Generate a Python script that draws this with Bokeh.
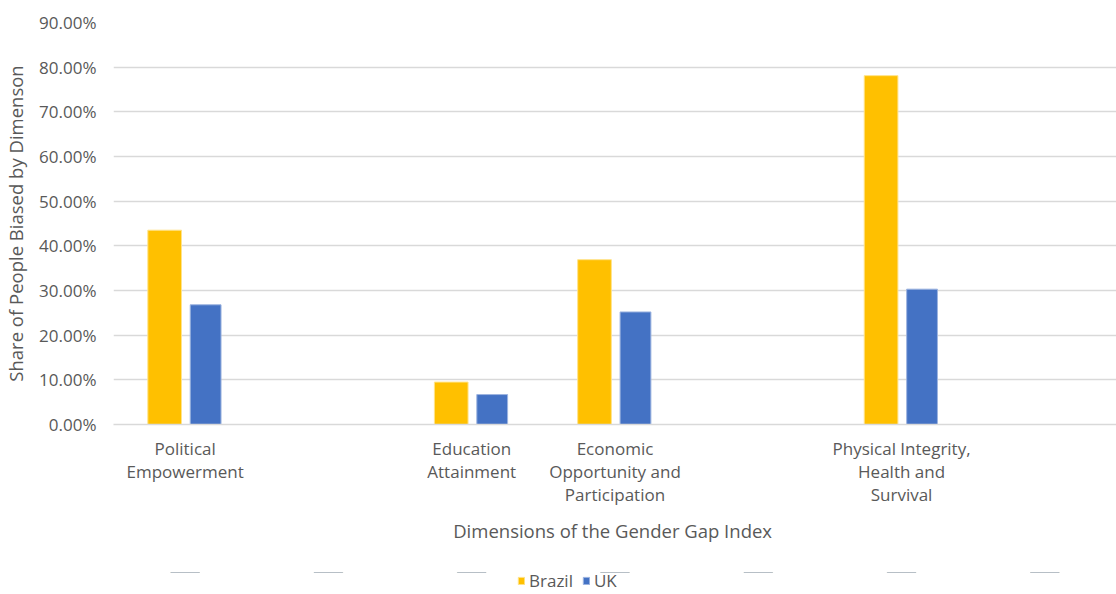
from bokeh.plotting import figure
from bokeh.layouts import column
from bokeh.models import ColumnDataSource, FactorRange, NumeralTickFormatter, FixedTicker, Legend, LegendItem, Range1d
from bokeh.transform import dodge
from bokeh.embed import file_html
from bokeh.resources import INLINE

categories = ["Political\nEmpowerment", " ", "Education\nAttainment",
              "Economic\nOpportunity and\nParticipation", "  ",
              "Physical Integrity,\nHealth and\nSurvival", "   "]
brazil = [0.435, 0.0, 0.095, 0.369, 0.0, 0.781, 0.0]
uk = [0.268, 0.0, 0.067, 0.252, 0.0, 0.303, 0.0]
y_ticks = [0.0, 0.1, 0.2, 0.3, 0.4, 0.5, 0.6, 0.7, 0.8, 0.9]
series_names = ["Brazil", "UK"]

FONT = "Open Sans"
GRAY = "#595959"
C_BR, C_UK = "#FFC000", "#4472C4"
L_BR, L_UK = "#FFE38A", "#9DB4E0"

src = ColumnDataSource(dict(cat=categories, brazil=brazil, uk=uk))

p = figure(width=1116, height=572, x_range=FactorRange(*categories, range_padding=0),
           y_range=(0, 0.9), output_backend="svg", toolbar_location=None,
           min_border_left=113, min_border_right=0, min_border_top=22, min_border_bottom=148)
p.outline_line_color = None
p.background_fill_color = "white"
p.border_fill_color = "white"

p.vbar(x=dodge("cat", -0.143, range=p.x_range), top="brazil", width=0.235, source=src,
       fill_color=C_BR, line_color=L_BR, line_width=1)
p.vbar(x=dodge("cat", 0.143, range=p.x_range), top="uk", width=0.215, source=src,
       fill_color=C_UK, line_color=L_UK, line_width=1)

p.yaxis.ticker = FixedTicker(ticks=y_ticks)
p.yaxis.formatter = NumeralTickFormatter(format="0.00%")
p.yaxis.axis_line_color = None
p.yaxis.major_tick_line_color = None
p.yaxis.minor_tick_line_color = None
p.yaxis.major_label_text_font = FONT
p.yaxis.major_label_text_font_size = "17px"
p.yaxis.major_label_text_color = GRAY
p.yaxis.major_label_standoff = 11
p.yaxis.axis_label = "Share of People Biased by Dimenson"
p.yaxis.axis_label_text_font = FONT
p.yaxis.axis_label_text_font_size = "18.5px"
p.yaxis.axis_label_text_font_style = "normal"
p.yaxis.axis_label_text_color = GRAY
p.yaxis.axis_label_standoff = 8

p.xaxis.axis_line_color = "#d9d9d9"
p.xaxis.axis_line_width = 1.5
p.xaxis.major_tick_line_color = None
p.xaxis.minor_tick_line_color = None
p.xaxis.major_label_text_font = FONT
p.xaxis.major_label_text_font_size = "17px"
p.xaxis.major_label_text_color = GRAY
p.xaxis.major_label_text_line_height = 1.0
p.xaxis.major_label_standoff = 6
p.xaxis.major_label_orientation = "horizontal"
p.xaxis.axis_label = "Dimensions of the Gender  Gap Index"
p.xaxis.axis_label_text_font = FONT
p.xaxis.axis_label_text_font_size = "18.5px"
p.xaxis.axis_label_text_font_style = "normal"
p.xaxis.axis_label_text_color = GRAY
p.xaxis.axis_label_standoff = 9

p.xgrid.grid_line_color = None
p.ygrid.grid_line_color = "#d9d9d9"
p.ygrid.grid_line_width = 1.5

# legend strip below the chart (bars here lie outside its visible y range)
lf = figure(width=1116, height=22, output_backend="svg", toolbar_location=None,
            x_range=FactorRange(*categories, range_padding=0), y_range=Range1d(-2, -1),
            x_axis_type=None, y_axis_type=None,
            min_border_left=0, min_border_right=0, min_border_top=0, min_border_bottom=0)
lf.outline_line_color = None
lf.grid.visible = False
lr1 = lf.vbar(x="cat", top="brazil", width=0.2, source=src, fill_color=C_BR, line_color=L_BR)
lr2 = lf.vbar(x="cat", top="uk", width=0.2, source=src, fill_color=C_UK, line_color=L_UK)
legend = Legend(items=[LegendItem(label=series_names[0], renderers=[lr1], index=0),
                       LegendItem(label=series_names[1], renderers=[lr2], index=0)],
                orientation="horizontal", location=(404, 2),
                label_text_font=FONT, label_text_font_size="17px", label_text_color=GRAY,
                label_height=18, glyph_width=8, glyph_height=9, spacing=9, label_standoff=4,
                border_line_color=None, background_fill_alpha=0, margin=0, padding=0)
lf.add_layout(legend, "center")

layout = column(p, lf, spacing=0)
open("out.html", "w").write(file_html(layout, INLINE))
